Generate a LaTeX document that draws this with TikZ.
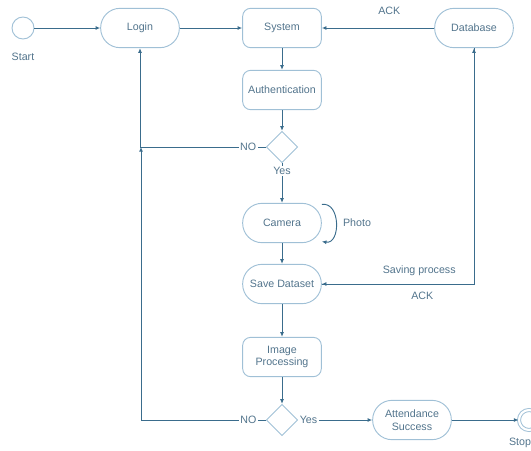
\documentclass[tikz,border=0pt]{standalone}
\usepackage{fontspec}
\setmainfont{Liberation Sans}
\usetikzlibrary{shapes.geometric,arrows.meta}

\definecolor{flowline}{RGB}{58,108,140}
\definecolor{flowbox}{RGB}{160,192,214}
\definecolor{flowtext}{RGB}{82,116,140}

\tikzset{
	every picture/.style={line width=0.7pt},
	stadium/.style={draw=flowbox, text=flowtext, rounded corners=14.5pt, minimum width=59pt, minimum height=29.5pt, align=center, inner sep=1pt, font=\fontsize{8}{9.5}\selectfont},
	softbox/.style={draw=flowbox, text=flowtext, rounded corners=6pt, minimum width=59pt, minimum height=29.5pt, align=center, inner sep=1pt, font=\fontsize{8}{9.5}\selectfont},
	choice/.style={draw=flowbox, diamond, aspect=1, inner sep=0pt, minimum width=23.5pt, minimum height=23.5pt},
	terminal/.style={draw=flowbox, circle, inner sep=0pt, minimum size=16.5pt},
	flow/.style={draw=flowline, -{Latex[length=3.5pt,width=3pt]}},
	tag/.style={text=flowtext, font=\fontsize{8}{9.5}\selectfont, inner sep=1pt},
	cut/.style={tag, fill=white}
}

\begin{document}
\begin{tikzpicture}[x=0.75pt,y=0.75pt,yscale=-1,xscale=1]
	\useasboundingbox (0,0) rectangle (531,450);

	%Start and stop
	\node[terminal] (start) at (23,28) {};
	\node[terminal, double=white, double distance=1.6pt, minimum size=15pt] (stop) at (529,420) {};

	%Boxes
	\node[stadium] (login) at (140,28) {Login};
	\node[softbox] (system) at (282,28) {System};
	\node[stadium] (db) at (474,28) {Database};
	\node[softbox] (auth) at (282,90) {Authentication};
	\node[choice] (check) at (282,147) {};
	\node[stadium] (camera) at (282,223) {Camera};
	\node[stadium] (save) at (282,284) {Save Dataset};
	\node[softbox] (image) at (282,357) {Image\\Processing};
	\node[choice] (match) at (282,420) {};
	\node[stadium] (attend) at (412,420) {Attendance\\Success};

	%Join point of the two NO lines
	\coordinate (back) at (141,147);

	%Connectors
	\draw[flow] (start) -- (login);
	\draw[flow] (login) -- (system);
	\draw[flow] (db) -- node[tag, pos=0.4, above=9pt] {ACK} (system);
	\draw[flow] (system) -- (auth);
	\draw[flow] (auth) -- (check);
	\draw[flow] (check) -- node[cut, pos=0.2] {Yes} (camera);
	\draw[flow] (check.west) -| node[cut, pos=0.07] {NO} (login.south);
	\draw[flow] (camera.25) .. controls +(19,-3) and +(19,3) .. (camera.-25);
	\draw[flow] (camera) -- (save);
	\draw[flow] (save.east) -| node[tag, pos=0.32, above=5pt] {Saving process} (db.south);
	\draw[flow] (db.south) |- node[tag, pos=0.67, below=5pt] {ACK} (save.east);
	\draw[flow] (save) -- (image);
	\draw[flow] (image) -- (match);
	\draw[flow] (match.west) -| node[cut, pos=0.07] {NO} (back);
	\draw[flow] (match.east) -- node[cut, pos=0.14] {Yes} (attend);
	\draw[flow] (attend) -- (stop);

	% Text Node
	\node[tag] (starttxt) at (23,57) {Start};
	% Text Node
	\node[tag] (stoptxt) at (520,443) {Stop};
	% Text Node
	\node[tag] (phototxt) at (357,223) {Photo};

\end{tikzpicture}
\end{document}
